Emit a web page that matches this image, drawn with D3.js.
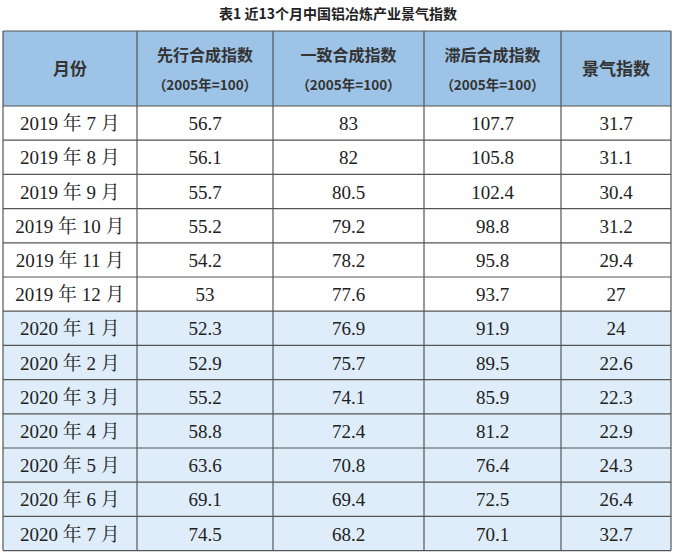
<!DOCTYPE html>
<html><head><meta charset="utf-8">
<script src="https://cdn.jsdelivr.net/npm/d3@7"></script>
<style>body{margin:0;background:#fff}</style></head>
<body><svg id="c" width="676" height="553"></svg>
<script>
const title = "表1 近13个月中国铝冶炼产业景气指数";
const headers = [["月份"],["先行合成指数","（2005年=100）"],["一致合成指数","（2005年=100）"],["滞后合成指数","（2005年=100）"],["景气指数"]];
const months = ["2019 年 7 月","2019 年 8 月","2019 年 9 月","2019 年 10 月","2019 年 11 月","2019 年 12 月","2020 年 1 月","2020 年 2 月","2020 年 3 月","2020 年 4 月","2020 年 5 月","2020 年 6 月","2020 年 7 月"];
const leading = ["56.7","56.1","55.7","55.2","54.2","53","52.3","52.9","55.2","58.8","63.6","69.1","74.5"];
const coincident = ["83","82","80.5","79.2","78.2","77.6","76.9","75.7","74.1","72.4","70.8","69.4","68.2"];
const lagging = ["107.7","105.8","102.4","98.8","95.8","93.7","91.9","89.5","85.9","81.2","76.4","72.5","70.1"];
const climate = ["31.7","31.1","30.4","31.2","29.4","27","24","22.6","22.3","22.9","24.3","26.4","32.7"];

const svg = d3.select("#c");
const colEdges = [3,137,273,424,561,671];
const tableTop = 31, headH = 75, rowH = 34.2;
const cols = [months, leading, coincident, lagging, climate];
const y = d3.scaleBand().domain(months).range([tableTop+headH, tableTop+headH+rowH*months.length]);
svg.append("text").attr("x",338).attr("y",19).attr("text-anchor","middle")
  .attr("font-family","Noto Sans CJK SC").attr("font-weight","bold").attr("font-size",14).attr("fill","#222").text(title);
svg.append("rect").attr("x",colEdges[0]).attr("y",tableTop).attr("width",colEdges[5]-colEdges[0]).attr("height",headH).attr("fill","#9dc3e6");
months.forEach((m,i)=>{
  svg.append("rect").attr("x",colEdges[0]).attr("y",y(m)).attr("width",colEdges[5]-colEdges[0]).attr("height",y.bandwidth())
   .attr("fill", m.startsWith("2020") ? "#deedf9" : "#fff");
});
headers.forEach((h,j)=>{
  const cx=(colEdges[j]+colEdges[j+1])/2;
  if(h.length===1){
    svg.append("text").attr("x",cx).attr("y",tableTop+headH/2+6).attr("text-anchor","middle")
     .attr("font-family","Noto Sans CJK SC").attr("font-weight","bold").attr("font-size",17).attr("fill","#333").text(h[0]);
  } else {
    svg.append("text").attr("x",cx).attr("y",tableTop+30).attr("text-anchor","middle")
     .attr("font-family","Noto Sans CJK SC").attr("font-weight","bold").attr("font-size",16).attr("fill","#333").text(h[0]);
    svg.append("text").attr("x",cx).attr("y",tableTop+59).attr("text-anchor","middle")
     .attr("font-family","Noto Sans CJK SC").attr("font-weight","bold").attr("font-size",13.5).attr("fill","#333").text(h[1]);
  }
});
cols.forEach((col,j)=>{
  const cx=(colEdges[j]+colEdges[j+1])/2;
  col.forEach((v,i)=>{
    svg.append("text").attr("x",cx).attr("y",y(months[i])+y.bandwidth()/2+7).attr("text-anchor","middle")
     .attr("font-family","Liberation Serif, Noto Serif CJK SC, serif").attr("font-size",19).attr("fill","#222").text(v);
  });
});
const bottom = tableTop+headH+rowH*months.length;
const g = svg.append("g").attr("stroke","#555").attr("stroke-width",1.2);
[tableTop, tableTop+headH, ...months.map(m=>y(m)+y.bandwidth())].forEach(yy=>g.append("line").attr("x1",colEdges[0]).attr("x2",colEdges[5]).attr("y1",yy).attr("y2",yy));
colEdges.forEach(x=>g.append("line").attr("x1",x).attr("x2",x).attr("y1",tableTop).attr("y2",bottom));
</script></body></html>
